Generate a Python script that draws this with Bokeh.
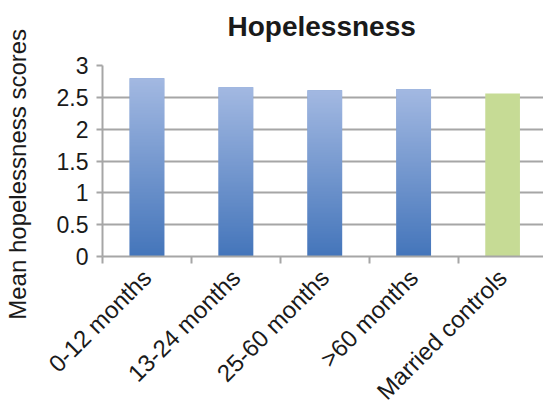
import numpy as np
from math import pi
from bokeh.plotting import figure
from bokeh.models import Range1d, FixedTicker, Title
from bokeh.embed import file_html
from bokeh.resources import INLINE

# ---- data ----
categories = ["0-12 months", "13-24 months", "25-60 months", ">60 months", "Married controls"]
values = [2.80, 2.66, 2.61, 2.63, 2.56]
bar_colors = ["#7696CE", "#7696CE", "#7696CE", "#7696CE", "#C6DB95"]
gradient_bars = [True, True, True, True, False]
y_ticks = [0, 0.5, 1, 1.5, 2, 2.5, 3]
y_tick_labels = ["0", "0.5", "1", "1.5", "2", "2.5", "3"]
title_text = "Hopelessness"
y_label = "Mean hopelessness scores"

FONT = "Liberation Sans"
GRID = "#A6A6A6"
BAR_W = 0.39

centers = [i + 0.5 for i in range(len(categories))]

p = figure(width=543, height=417, output_backend="svg", toolbar_location=None,
           x_range=Range1d(0, 4.96), y_range=Range1d(0, 3),
           min_border_left=102, min_border_right=0, min_border_top=65,
           min_border_bottom=161, title=title_text)
p.outline_line_color = None
p.background_fill_color = "white"
p.border_fill_color = "white"

# main title (outermost panel)
p.title.align = "left"
p.title.offset = 125
p.title.standoff = 2
p.title.text_font = FONT
p.title.text_font_size = "28px"
p.title.text_font_style = "bold"
p.title.text_color = "#1a1a1a"

# blank spacer panel between the frame and the main title
p.add_layout(Title(text=" ", text_font_size="10px", standoff=10), "above")

# base bars
p.vbar(x=centers, top=values, width=BAR_W, bottom=0,
       fill_color=bar_colors, line_color=None)

# gradient overlay for the blue bars (light at top, dark at bottom)
n = 128
top_rgb = np.array([0xA3, 0xB9, 0xE2], dtype=float)
bot_rgb = np.array([0x45, 0x76, 0xBB], dtype=float)
t = np.linspace(0.0, 1.0, n)[:, None]
rgb = bot_rgb + (top_rgb - bot_rgb) * t
img = np.empty((n, 1), dtype=np.uint32)
view = img.view(dtype=np.uint8).reshape((n, 1, 4))
view[:, 0, 0] = rgb[:, 0].astype(np.uint8)
view[:, 0, 1] = rgb[:, 1].astype(np.uint8)
view[:, 0, 2] = rgb[:, 2].astype(np.uint8)
view[:, 0, 3] = 255

gx = [c - BAR_W / 2 for c, g in zip(centers, gradient_bars) if g]
gh = [v for v, g in zip(values, gradient_bars) if g]
p.image_rgba(image=[img] * len(gx), x=gx, y=0, dw=BAR_W, dh=gh)

# grid
p.xgrid.visible = False
p.ygrid.grid_line_color = GRID
p.ygrid.grid_line_width = 2

# y axis
p.yaxis.ticker = FixedTicker(ticks=y_ticks)
p.yaxis.major_label_overrides = {t_: l for t_, l in zip(y_ticks, y_tick_labels)}
p.yaxis.axis_line_color = GRID
p.yaxis.axis_line_width = 2
p.yaxis.major_tick_line_color = GRID
p.yaxis.major_tick_line_width = 2
p.yaxis.major_tick_out = 6
p.yaxis.major_tick_in = 0
p.yaxis.minor_tick_line_color = None
p.yaxis.major_label_text_font = FONT
p.yaxis.major_label_text_font_size = "23px"
p.yaxis.major_label_text_color = "#1a1a1a"
p.yaxis.major_label_standoff = 8
# trailing no-break spaces shift the centred label down to where the original sits
p.yaxis.axis_label = y_label + "\u00a0" * 4
p.yaxis.axis_label_text_font = FONT
p.yaxis.axis_label_text_font_size = "24px"
p.yaxis.axis_label_text_font_style = "normal"
p.yaxis.axis_label_text_color = "#1a1a1a"
p.yaxis.axis_label_standoff = 23

# x axis
p.xaxis.ticker = FixedTicker(ticks=centers, minor_ticks=list(range(len(categories) + 1)))
p.xaxis.major_label_overrides = {c: l for c, l in zip(centers, categories)}
p.xaxis.axis_line_color = GRID
p.xaxis.axis_line_width = 2
p.xaxis.major_tick_line_color = None
p.xaxis.major_tick_out = 0
p.xaxis.major_tick_in = 0
p.xaxis.minor_tick_line_color = GRID
p.xaxis.minor_tick_line_width = 2
p.xaxis.minor_tick_out = 7
p.xaxis.minor_tick_in = 0
p.xaxis.major_label_orientation = pi / 4
p.xaxis.major_label_text_font = FONT
p.xaxis.major_label_text_font_size = "24px"
p.xaxis.major_label_text_color = "#1a1a1a"
p.xaxis.major_label_standoff = 10

open("out.html", "w").write(file_html(p, INLINE))
